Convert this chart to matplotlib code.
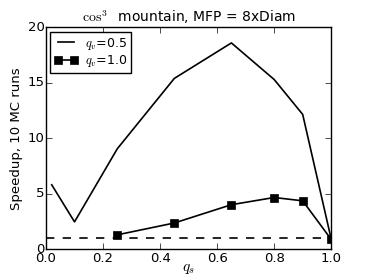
import numpy as np
import matplotlib
matplotlib.use('Agg')
import matplotlib.pyplot as plt

plt.style.use('classic')
plt.rcParams['mathtext.fontset'] = 'cm'
plt.rcParams['font.family'] = 'DejaVu Sans'

# q_v = 0.5
qs_a = [0.02, 0.1, 0.25, 0.45, 0.65, 0.8, 0.9, 1.0]
speed_a = [5.8, 2.45, 9.05, 15.4, 18.6, 15.3, 12.15, 0.9]

# q_v = 1.0
qs_b = [0.25, 0.45, 0.65, 0.8, 0.9, 1.0]
speed_b = [1.28, 2.35, 4.0, 4.65, 4.35, 0.87]

baseline = 1.0

fig = plt.figure(figsize=(3.68, 2.77), dpi=100)
fig.patch.set_facecolor('white')
ax = fig.add_axes([0.125, 0.101, 0.775, 0.80])

ax.plot(qs_a, speed_a, 'k-', lw=1.2, label='$q_v$=0.5')
ax.plot(qs_b, speed_b, 'k-s', lw=1.2, ms=5.5, label='$q_v$=1.0')
ax.axhline(baseline, color='k', ls='--', lw=1.2)

ax.set_xlim(0, 1)
ax.set_ylim(0, 20)
ax.set_xticks(np.arange(0, 1.01, 0.2))
ax.set_yticks([0, 5, 10, 15, 20])
ax.tick_params(axis='x', labelsize=9.5, pad=2)
ax.tick_params(axis='y', labelsize=9.5, pad=1)
ax.set_xlabel('$q_s$', fontsize=11, labelpad=-3)
ax.set_ylabel('Speedup, 10 MC runs', fontsize=9.5, labelpad=3)
ax.set_title(r'$\cos^3$  mountain, MFP = 8xDiam', fontsize=10, pad=4)
ax.legend(loc='upper left', fontsize=9, numpoints=2, handlelength=1.9,
          labelspacing=0.15, borderpad=0.3, handletextpad=0.6,
          borderaxespad=0.35)

fig.savefig('out.png', dpi=100, facecolor='white')
